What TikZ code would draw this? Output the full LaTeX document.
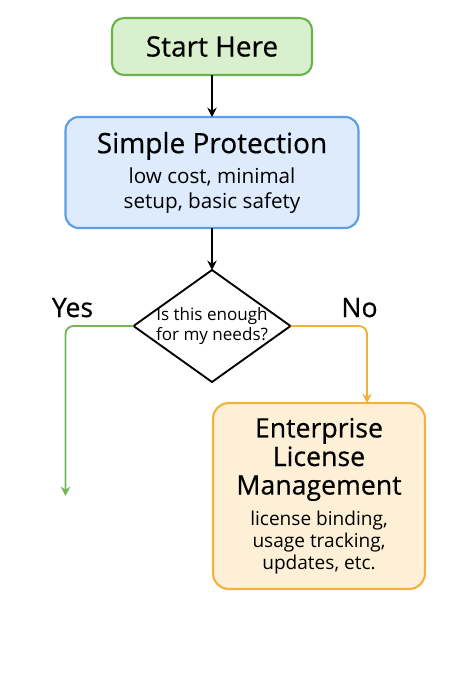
\documentclass[tikz,border=0pt]{standalone}
\usepackage{fontspec}
\setmainfont{Open Sans}
\newfontfamily\mediumFace{Open Sans}[FakeBold=0.5]
\usetikzlibrary{shapes.geometric, arrows.meta, positioning, calc}
\definecolor{startFill}{RGB}{217,240,206}
\definecolor{startLine}{RGB}{106,178,76}
\definecolor{protFill}{RGB}{221,235,252}
\definecolor{protLine}{RGB}{92,157,230}
\definecolor{entFill}{RGB}{253,240,214}
\definecolor{entLine}{RGB}{240,180,62}
\definecolor{yesLine}{RGB}{112,184,88}
\definecolor{noLine}{RGB}{240,176,58}
\newcommand{\subFont}{\normalfont\fontsize{15.5}{18.75}\selectfont}
\newcommand{\entSub}{\normalfont\fontsize{14.3}{16.5}\selectfont}
\tikzset{
    >={Stealth[length=7pt, width=7pt]},
    % Shapes
    box/.style={rectangle, line width=1.6pt, align=center, inner sep=0pt, outer sep=0pt},
    startBox/.style={box, draw=startLine, fill=startFill, rounded corners=9pt,
                     minimum width=150pt, minimum height=42.75pt,
                     font=\mediumFace\fontsize{21}{23}\selectfont},
    protBox/.style={box, draw=protLine, fill=protFill, rounded corners=10pt,
                    minimum width=219.75pt, minimum height=83.25pt,
                    font=\mediumFace\fontsize{21}{22.5}\selectfont},
    entBox/.style={box, draw=entLine, fill=entFill, rounded corners=12pt,
                   minimum width=159pt, minimum height=139.5pt,
                   font=\mediumFace\fontsize{20}{21.4}\selectfont},
    decide/.style={diamond, aspect=1.4, draw=black, line width=1.4pt, fill=white,
                   inner sep=-2pt, outer sep=0pt, minimum width=117.75pt, minimum height=84pt,
                   align=center, font=\fontsize{12.8}{15}\selectfont},
    % Flow & Labels
    flow/.style={->, line width=1.4pt, black},
    yesFlow/.style={->, line width=1.4pt, yesLine, rounded corners=6pt},
    noFlow/.style={->, line width=1.4pt, noLine, rounded corners=6pt},
    lbl/.style={inner sep=0pt, font=\mediumFace\fontsize{20}{22}\selectfont, anchor=base}
}

\begin{document}
\begin{tikzpicture}[x=0.75pt, y=-0.75pt, node distance=31.5pt]

\useasboundingbox (0,0) rectangle (450,675);

\node[startBox] (start) at (212,46.5) {Start Here};
\node[protBox, below=of start] (prot)
    {Simple Protection\\
     \subFont low cost, minimal\\[-3.75pt] \subFont setup, basic safety};
\node[decide, below=of prot] (dm) {Is this enough\\ for my needs?};
\node[entBox, below=15.75pt of dm.south, xshift=80.25pt] (ent)
    {Enterprise\\ License\\ Management\\[1.85pt]
     \entSub license binding,\\[-4.9pt] \entSub usage tracking,\\[-4.9pt] \entSub updates, etc.};

\coordinate (yesEnd) at (prot.west |- ent.center);

\draw[flow] (start) -- (prot);
\draw[flow] (prot) -- (dm);
\draw[yesFlow] (dm.west) -| (yesEnd);
\draw[noFlow] (dm.east) -| ([xshift=36pt]ent.north);

\node[lbl] (yes) at ($(yesEnd |- dm.west)+(7,-9)$) {Yes};
\node[lbl] (no) at ($(dm.east)+(69,-9)$) {No};

\end{tikzpicture}
\end{document}
